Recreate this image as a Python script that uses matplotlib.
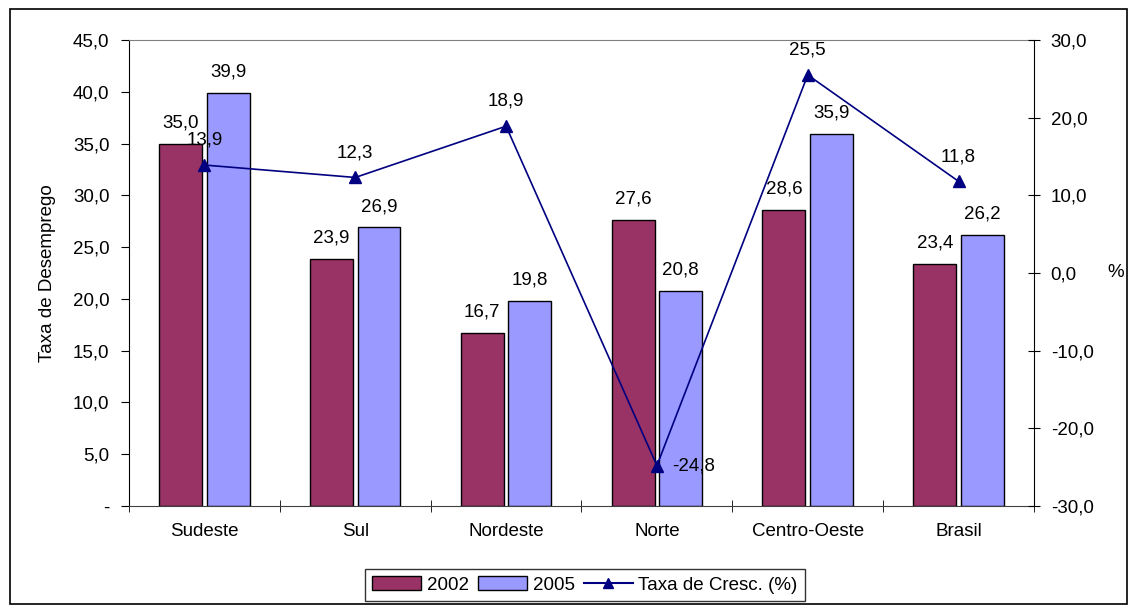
import matplotlib.pyplot as plt
import numpy as np
from matplotlib.patches import Rectangle
from matplotlib.lines import Line2D

plt.rcParams['font.family'] = ['Liberation Sans', 'DejaVu Sans']

regioes = ['Sudeste', 'Sul', 'Nordeste', 'Norte', 'Centro-Oeste', 'Brasil']
taxa_2002 = [35.0, 23.9, 16.7, 27.6, 28.6, 23.4]
taxa_2005 = [39.9, 26.9, 19.8, 20.8, 35.9, 26.2]
cresc = [13.9, 12.3, 18.9, -24.8, 25.5, 11.8]

FS = 13.5

def fmt(v):
    return f'{v:.1f}'.replace('.', ',')

fig = plt.figure(figsize=(11.28, 6.05), dpi=100)
fig.patches.append(Rectangle((10/1128, 1 - 604/605), 1117/1128, 595/605,
                             transform=fig.transFigure, fill=False,
                             edgecolor='black', linewidth=1.2))

ax = fig.add_axes([129/1128, 1 - 506/605, 905/1128, 466/605])
x = np.arange(len(regioes))
w = 0.285
gap = 0.015
ax.bar(x - w/2 - gap, taxa_2002, w, color='#993366', edgecolor='black', linewidth=1, zorder=2)
ax.bar(x + w/2 + gap, taxa_2005, w, color='#9999FF', edgecolor='black', linewidth=1, zorder=2)
for i in range(len(x)):
    ax.text(x[i] - w/2 - gap, taxa_2002[i] + 1.2, fmt(taxa_2002[i]), ha='center', va='bottom', fontsize=FS)
    ax.text(x[i] + w/2 + gap, taxa_2005[i] + 1.2, fmt(taxa_2005[i]), ha='center', va='bottom', fontsize=FS)

ax.set_xlim(-0.5, len(x) - 0.5)
ax.set_ylim(0, 45)
ax.set_yticks(np.arange(0, 46, 5))
ax.set_yticklabels(['-'] + [fmt(v) for v in np.arange(5, 46, 5)], fontsize=FS)
ax.set_ylabel('Taxa de Desemprego', fontsize=FS, labelpad=12)
ax.set_xticks(x)
ax.set_xticklabels(regioes, fontsize=FS)
ax.tick_params(axis='x', length=0, pad=12)
ax.set_xticks(np.arange(-0.5, len(x), 1), minor=True)
ax.tick_params(axis='x', which='minor', length=8, direction='inout')
ax.tick_params(axis='y', length=6, direction='out', pad=8)
ax.spines['top'].set_color('#808080')
ax.spines['right'].set_visible(False)
ax.spines['bottom'].set_color('#404040')

ax2 = ax.twinx()
ax2.plot(x, cresc, color='#000080', linewidth=1.2, marker='^', markersize=8, zorder=3)
ax2.set_ylim(-30, 30)
ax2.set_yticks(np.arange(-30, 31, 10))
ax2.set_yticklabels([fmt(v) for v in np.arange(-30, 31, 10)], fontsize=FS)
ax2.tick_params(axis='y', length=8, direction='inout', pad=8)
ax2.set_ylabel('%', rotation=0, fontsize=FS, labelpad=16, va='center')
for s in ['top', 'left', 'bottom']:
    ax2.spines[s].set_visible(False)
for i in range(len(x)):
    if cresc[i] < 0:
        ax2.text(x[i] + 0.1, cresc[i], fmt(cresc[i]), ha='left', va='center', fontsize=FS)
    else:
        ax2.text(x[i], cresc[i] + 2.1, fmt(cresc[i]), ha='center', va='bottom', fontsize=FS)

handles = [Rectangle((0, 0), 1, 1, facecolor='#993366', edgecolor='black'),
           Rectangle((0, 0), 1, 1, facecolor='#9999FF', edgecolor='black'),
           Line2D([], [], color='#000080', marker='^', markersize=7)]
leg = fig.legend(handles, ['2002', '2005', 'Taxa de Cresc. (%)'], loc='center',
                 bbox_to_anchor=(585/1128, 1 - 585/605), ncol=3, fontsize=FS,
                 frameon=True, fancybox=False, edgecolor='black',
                 handlelength=2.6, handletextpad=0.3, columnspacing=0.5,
                 borderpad=0.4)
leg.get_frame().set_linewidth(1)

fig.savefig('out.png', dpi=100)
